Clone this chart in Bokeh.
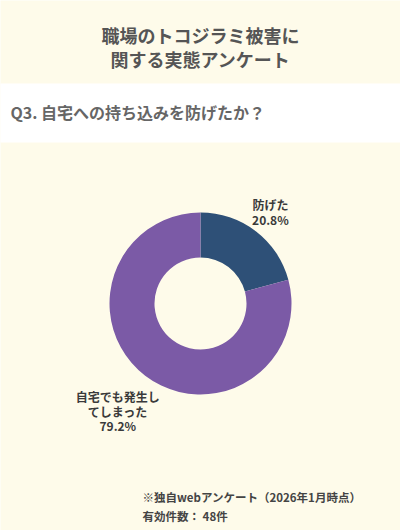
import numpy as np
from bokeh.plotting import figure
from bokeh.models import ColumnDataSource
from bokeh.core.properties import value
from bokeh.embed import file_html
from bokeh.resources import INLINE

# data
title_lines = ["職場のトコジラミ被害に", "関する実態アンケート"]
question = "Q3. 自宅への持ち込みを防げたか？"
labels = [["防げた"], ["自宅でも発生し", "てしまった"]]
shares = [20.8, 79.2]
colors = ["#2e5077", "#7b5aa6"]
footer = ["※独自webアンケート（2026年1月時点）", "有効件数： 48件"]

# distance of each label block from the donut centre
label_dist = [115, 136]

W, H = 400, 530
BG = "#fefbea"
FONT = value("Noto Sans CJK JP")

p = figure(width=W, height=H, x_range=(0, W), y_range=(0, H),
           output_backend="svg", toolbar_location=None, min_border=0)
p.axis.visible = False
p.grid.visible = False
p.outline_line_color = None
p.background_fill_color = BG
p.border_fill_color = BG

# title
p.text(x=[W / 2] * 2, y=[496, 472], text=title_lines, text_font=FONT,
       text_font_size="18px", text_font_style="bold", text_color="#555555",
       text_align="center", text_baseline="middle")

# question band
p.quad(left=[-10], right=[W + 10], bottom=[388], top=[447],
       fill_color="white", line_color=None)
p.text(x=[10], y=[419], text=[question], text_font=FONT,
       text_font_size="16px", text_font_style="bold", text_color="#666666",
       text_align="left", text_baseline="middle")

# donut
cx, cy = 200, 227
frac = np.array(shares) / sum(shares)
ends = np.pi / 2 - 2 * np.pi * np.concatenate([[0], np.cumsum(frac)[:-1]])
starts = np.pi / 2 - 2 * np.pi * np.cumsum(frac)
src = ColumnDataSource(dict(start=starts, end=ends, color=colors))
p.annular_wedge(x=cx, y=cy, inner_radius=46, outer_radius=91,
                start_angle="start", end_angle="end", fill_color="color",
                line_color=None, source=src)

# labels, placed outside along the slice mid angle
lx, ly, lt = [], [], []
for lab, sh, a0, a1, d in zip(labels, shares, starts, ends, label_dist):
    mid = (a0 + a1) / 2
    bx = cx + d * np.cos(mid)
    by = cy + d * np.sin(mid)
    lines = lab + ["%.1f%%" % sh]
    n = len(lines)
    for i, t in enumerate(lines):
        lx.append(bx)
        ly.append(by + (n - 1) / 2 * 14.5 - i * 14.5)
        lt.append(t)
p.text(x=lx, y=ly, text=lt, text_font=FONT, text_font_size="12px",
       text_font_style="bold", text_color="#3a3a3a",
       text_align="center", text_baseline="middle")

# footer
p.text(x=[142, 142], y=[34, 15], text=footer, text_font=FONT,
       text_font_size="11.5px", text_font_style="bold", text_color="#444444",
       text_align="left", text_baseline="middle")

open("out.html", "w").write(file_html(p, INLINE))
